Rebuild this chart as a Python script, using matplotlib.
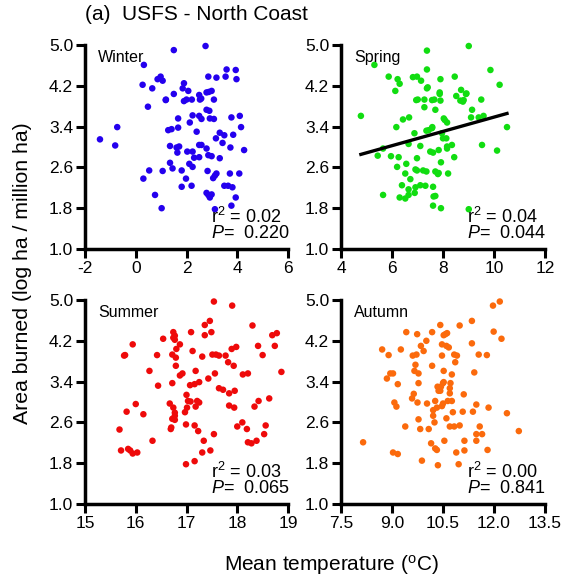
import numpy as np
import matplotlib
matplotlib.use("Agg")
import matplotlib.pyplot as plt

plt.rcParams['font.family'] = ['Liberation Sans', 'DejaVu Sans']
plt.rcParams['mathtext.fontset'] = 'custom'
plt.rcParams['mathtext.rm'] = 'Liberation Sans'
plt.rcParams['mathtext.it'] = 'Liberation Sans:italic'

# Winter
winter_x = [1.50, 2.75, 0.32, 0.27, 0.65, 0.86, 0.98, 1.06, 1.19, 1.18, 0.48, 1.50, 1.90, 1.85, 2.07,
            1.90, 2.00, 2.21, 2.50, 2.53, 2.58, 2.79, 2.88, 2.99, 2.86, 3.18, 3.54, 3.58, 3.94, 3.97,
            3.08, 2.79, 2.90, 2.24, 2.50, 2.59, 2.92, 3.08, 2.13, 1.67, 1.28, 1.41, 1.67, -1.41, -0.73,
            -0.81, 1.35, 1.61, 1.71, 1.64, 2.03, 2.24, 2.40, 2.30, 2.50, 2.50, 2.59, 2.79, 2.86, 2.99,
            3.16, 3.31, 3.49, 3.42, 3.73, 3.84, 3.77, 4.10, 4.15, 4.27, 3.31, 1.35, 1.45, 2.11, 2.24,
            0.53, 0.30, 1.06, 1.81, 1.98, 2.83, 3.05, 3.12, 3.18, 3.71, 4.08, 1.81, 2.20, 0.76, 1.02,
            2.79, 2.86, 2.92, 2.99, 3.49, 3.64, 3.81, 3.94, 3.77, 3.12]
winter_y = [4.90, 4.98, 4.61, 4.22, 4.15, 4.33, 4.38, 4.30, 3.93, 3.92, 3.79, 4.04, 4.25, 4.15, 4.10,
            3.90, 3.93, 3.93, 4.02, 3.93, 3.95, 4.07, 4.08, 4.10, 4.38, 4.36, 4.38, 4.52, 4.51, 4.33,
            3.93, 3.73, 3.71, 3.62, 3.61, 3.55, 3.56, 3.55, 3.48, 3.56, 3.33, 3.35, 3.38, 3.15, 3.39,
            3.03, 3.02, 2.99, 3.01, 2.89, 2.91, 2.91, 3.30, 2.79, 2.80, 3.04, 3.04, 2.97, 2.84, 2.82,
            3.17, 3.28, 3.23, 3.08, 2.99, 3.24, 3.58, 3.61, 3.39, 2.94, 2.78, 2.69, 2.58, 2.67, 2.61,
            2.54, 2.38, 2.53, 2.54, 2.38, 2.53, 2.39, 2.44, 2.48, 2.48, 2.48, 2.22, 2.24, 2.06, 1.80,
            2.10, 2.06, 2.01, 2.07, 2.24, 2.24, 2.21, 2.01, 1.85, 1.78]

# Spring
spring_x = [4.78, 5.31, 5.87, 6.22, 6.30, 6.13, 6.17, 5.44, 5.65, 5.96, 6.26, 6.20, 6.56, 6.43, 6.67,
            6.65, 6.52, 6.72, 6.88, 6.82, 6.98, 7.14, 6.95, 7.01, 7.27, 7.27, 7.37, 7.40, 7.37, 7.37,
            7.57, 7.66, 7.87, 7.87, 7.90, 7.90, 7.70, 8.03, 8.07, 8.16, 7.35, 7.44, 7.57, 7.58, 7.96,
            8.00, 8.13, 8.16, 8.16, 8.35, 8.44, 7.83, 7.50, 7.61, 7.11, 6.98, 6.92, 6.98, 7.22, 7.35,
            7.70, 7.80, 7.92, 7.83, 8.20, 6.39, 6.65, 6.89, 6.92, 7.11, 7.31, 7.61, 5.65, 6.30, 6.52,
            6.65, 7.63, 7.70, 7.61, 7.92, 9.01, 9.01, 8.46, 8.71, 8.90, 8.92, 8.81, 8.68, 8.52, 8.78,
            9.10, 9.14, 9.50, 9.40, 9.59, 9.53, 9.86, 10.22, 10.12, 10.51]
spring_y = [3.61, 4.61, 4.38, 4.33, 4.24, 4.10, 3.39, 2.83, 2.97, 2.82, 2.80, 2.61, 2.67, 3.54, 3.58,
            3.06, 2.48, 2.37, 3.27, 4.37, 4.38, 4.30, 3.92, 3.93, 3.78, 3.93, 4.15, 4.17, 4.89, 4.52,
            3.92, 3.93, 4.07, 4.04, 3.91, 4.33, 3.73, 3.56, 3.53, 3.48, 3.32, 3.33, 3.37, 3.39, 3.27,
            3.17, 3.17, 3.01, 2.97, 3.04, 2.80, 2.94, 2.91, 2.89, 3.02, 2.78, 2.56, 2.54, 2.54, 2.52,
            2.52, 2.47, 2.70, 2.49, 2.48, 2.25, 2.17, 2.10, 2.21, 2.25, 2.24, 2.22, 2.06, 2.01, 1.99,
            2.06, 2.03, 2.04, 1.85, 1.80, 4.98, 1.78, 4.38, 4.12, 4.04, 4.05, 3.92, 3.91, 4.00, 3.89,
            3.58, 3.73, 3.93, 3.58, 3.61, 3.04, 4.51, 4.22, 2.93, 3.39]
spring_slope = 0.140
spring_intercept = 2.186

# Summer
summer_x = [17.54, 17.90, 17.46, 17.36, 17.36, 17.49, 18.30, 17.09, 16.74, 16.74, 16.77, 16.77, 16.54,
            16.87, 16.80, 16.72, 16.79, 16.42, 15.94, 15.79, 15.77, 16.27, 16.44, 16.72, 16.87, 16.92,
            16.79, 17.12, 17.31, 17.18, 17.16, 17.07, 17.25, 17.43, 17.51, 17.58, 17.64, 17.77, 17.82,
            17.89, 17.98, 17.93, 17.56, 17.64, 17.72, 17.84, 17.95, 18.11, 18.21, 18.41, 18.50, 18.69,
            18.78, 18.74, 18.87, 18.63, 18.42, 18.34, 17.94, 17.84, 16.67, 16.74, 16.77, 16.77, 16.72,
            16.77, 16.70, 16.69, 16.97, 17.00, 17.03, 17.08, 17.01, 17.21, 17.18, 17.25, 16.99, 17.16,
            17.23, 17.34, 17.31, 17.47, 17.54, 18.00, 18.10, 18.19, 18.21, 18.28, 18.38, 18.56, 18.53,
            16.00, 16.15, 15.82, 15.68, 15.71, 15.85, 15.89, 15.94, 16.03, 16.33, 16.99, 17.16]
summer_y = [4.97, 4.89, 4.59, 4.51, 4.31, 4.37, 4.50, 4.37, 4.37, 4.26, 4.22, 4.30, 4.24,
            4.13, 4.04, 3.93, 3.87, 3.92, 4.13, 3.92, 3.91, 3.61, 3.32, 3.37, 3.52, 3.56,
            3.71, 4.00, 3.89, 3.61, 3.35, 3.33, 3.39, 3.46, 3.93, 3.93, 3.91, 3.91, 3.78,
            4.04, 4.08, 3.71, 3.56, 3.27, 3.24, 3.17, 3.22, 3.54, 3.56, 4.10, 3.92, 4.31,
            4.35, 4.10, 3.59, 3.07, 3.02, 2.91, 2.89, 2.93, 2.97, 2.89, 2.79, 2.73, 2.67,
            2.65, 2.50, 2.47, 2.80, 3.14, 3.02, 3.01, 2.89, 3.02, 2.91, 2.99, 2.56, 2.54,
            2.43, 2.24, 2.01, 2.05, 2.37, 2.52, 2.60, 2.47, 2.21, 2.19, 2.24, 2.54, 2.37,
            2.96, 2.76, 2.81, 2.46, 2.05, 2.08, 2.05, 1.99, 2.01, 2.24, 1.78, 1.84]

# Autumn
autumn_x = [8.15, 8.71, 8.90, 8.85, 8.95, 9.03, 9.17, 9.07, 9.13, 9.03, 9.17, 9.26, 9.42, 9.39, 9.59,
            9.64, 9.61, 9.72, 9.69, 9.66, 9.74, 9.78, 9.78, 9.75, 9.78, 9.83, 9.88, 9.85, 9.93, 10.01,
            10.03, 10.08, 10.15, 10.21, 10.21, 10.18, 10.18, 10.25, 10.27, 10.32, 10.35, 10.27, 10.32,
            10.34, 10.37, 10.42, 10.44, 10.42, 10.47, 10.50, 10.50, 10.52, 10.52, 10.52, 10.57, 10.62,
            10.47, 10.60, 10.67, 10.47, 10.54, 10.60, 10.64, 10.70, 10.70, 10.72, 10.70, 10.76, 10.79,
            10.76, 10.83, 10.86, 10.91, 10.83, 10.99, 10.89, 10.96, 10.99, 11.11, 11.08, 11.13, 11.13,
            11.35, 11.35, 11.38, 11.42, 11.48, 11.48, 11.48, 11.55, 11.58, 11.65, 11.79, 11.84, 11.81,
            11.97, 12.17, 11.99, 12.22, 12.38, 12.73]
autumn_y = [2.21, 4.03, 3.92, 3.46, 3.56, 3.56, 3.35, 2.99, 2.91, 2.01, 1.98, 4.03, 4.37, 2.52, 3.07,
            3.16, 3.91, 3.93, 3.73, 3.61, 4.33, 3.56, 3.37, 2.99, 2.66, 2.47, 1.85, 4.10, 4.00, 4.20,
            2.97, 2.47, 2.19, 2.73, 2.84, 3.71, 4.37, 2.60, 2.09, 2.06, 1.76, 3.02, 2.89,
            3.30, 3.22, 3.22, 3.30, 4.51, 2.92, 2.97, 3.37, 3.39, 3.61, 4.31, 4.33, 4.35,
            4.13, 4.10, 4.07, 3.91, 2.24, 2.68, 3.02, 3.17, 3.27, 3.37, 2.52, 3.02, 2.80,
            3.54, 3.93, 3.78, 3.91, 2.52, 2.54, 2.01, 1.78, 4.50, 3.15, 2.81, 2.24, 2.05,
            4.59, 4.15, 2.81, 3.58, 2.95, 2.37, 2.24, 3.93, 2.52, 2.37, 3.92, 2.89, 2.06,
            4.89, 4.97, 4.38, 4.24, 2.78, 2.43]

seasons = ['Winter', 'Spring', 'Summer', 'Autumn']
colors = ['#2400ee', '#11dd11', '#ee0a0a', '#fb6a0c']
xs = [winter_x, spring_x, summer_x, autumn_x]
ys = [winter_y, spring_y, summer_y, autumn_y]
xticks = [[-2, 0, 2, 4, 6], [4, 6, 8, 10, 12], [15, 16, 17, 18, 19], [7.5, 9.0, 10.5, 12.0, 13.5]]
xticklabels = [['-2', '0', '2', '4', '6'], ['4', '6', '8', '10', '12'],
               ['15', '16', '17', '18', '19'], ['7.5', '9.0', '10.5', '12.0', '13.5']]
r2_values = ['0.02', '0.04', '0.03', '0.00']
p_values = ['0.220', '0.044', '0.065', '0.841']
yticks = [1.0, 1.8, 2.6, 3.4, 4.2, 5.0]

fig = plt.figure(figsize=(5.64, 5.83), dpi=100)
W, H = 564, 583
boxes = [(85, 45, 288, 249), (341, 45, 545, 249), (85, 300, 288, 504), (341, 300, 545, 504)]

for i in range(4):
    l, t, r, b = boxes[i]
    ax = fig.add_axes([l / W, 1 - b / H, (r - l) / W, (b - t) / H])
    ax.scatter(xs[i], ys[i], s=22, color=colors[i], edgecolors='none', clip_on=False, zorder=3)
    if i == 1:
        # fitted regression line over the data range
        fx = np.array([min(spring_x), max(spring_x)])
        ax.plot(fx, spring_slope * fx + spring_intercept, color='black', lw=2.4, zorder=4)
    ax.set_xlim(xticks[i][0], xticks[i][-1])
    ax.set_ylim(1.0, 5.0)
    ax.set_xticks(xticks[i])
    ax.set_xticklabels(xticklabels[i])
    ax.set_yticks(yticks)
    ax.set_yticklabels(['%.1f' % v for v in yticks])
    for s in ['top', 'right']:
        ax.spines[s].set_visible(False)
    for s in ['left', 'bottom']:
        ax.spines[s].set_linewidth(2.5)
    ax.tick_params(width=2.2, length=6.5, labelsize=12.5, pad=2)
    ax.text(0.065, 0.94, seasons[i], transform=ax.transAxes, fontsize=11.5, va='center', ha='left')
    ax.text(0.62, 0.157, 'r$^2$ = ' + r2_values[i], transform=ax.transAxes, fontsize=13,
            va='center', ha='left')
    ax.text(0.62, 0.074, '$P$=  ' + p_values[i], transform=ax.transAxes, fontsize=13,
            va='center', ha='left')

fig.text(85 / W, 1 - 15 / H, '(a)  USFS - North Coast', fontsize=15, va='center', ha='left')
fig.text(23 / W, 1 - 273 / H, 'Area burned (log ha / million ha)', fontsize=15.3,
         rotation=90, va='center', ha='center')
fig.text(331 / W, 1 - 565 / H, 'Mean temperature ($^\\mathregular{o}$C)', fontsize=15,
         va='center', ha='center')

fig.savefig('out.png', dpi=100)
